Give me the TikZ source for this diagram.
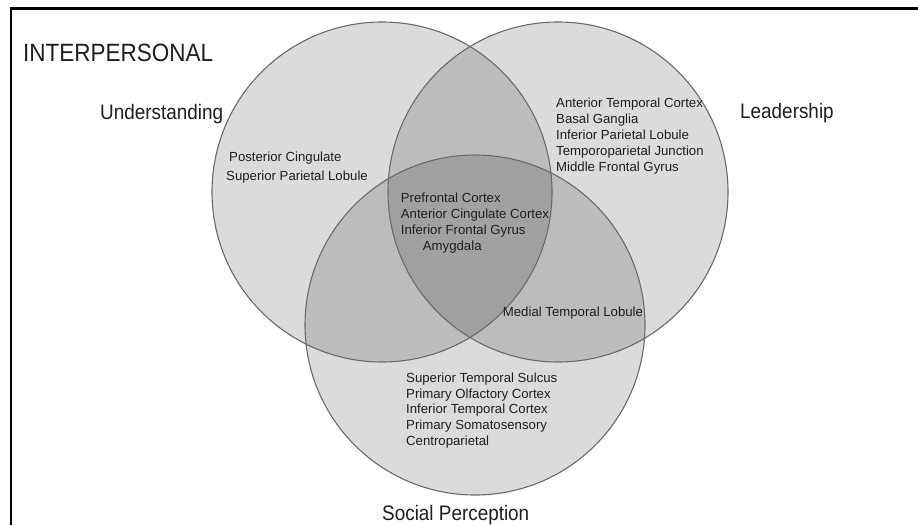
\documentclass[tikz,border=0pt]{standalone}
\usepackage{fontspec}
\setmainfont{Liberation Sans}
\newfontfamily\labelfont[FakeStretch=0.9]{Liberation Sans}
\begin{document}
\begin{tikzpicture}[x=1pt,y=-1pt,
  setfill/.style={fill=black, fill opacity=0.14},
  setline/.style={draw=black!58, line width=1.1pt},
  region/.style={anchor=base west, inner sep=0pt, font=\fontsize{13.2}{15.6}\selectfont, text=black!88},
  setname/.style={anchor=base west, inner sep=0pt, font=\labelfont\fontsize{21}{24}\selectfont, text=black!88},
]
\useasboundingbox (0,0) rectangle (918,525);
\fill[white] (0,0) rectangle (918,525);

% frame
\draw[line width=2.6pt] (11,525) -- (11,8.5) -- (918,8.5);

% the three sets
\coordinate (U) at (382,192);
\coordinate (L) at (558,192);
\coordinate (S) at (475,325);
\foreach \c in {U,L,S} \fill[setfill] (\c) circle[radius=170];
\foreach \c in {U,L,S} \draw[setline] (\c) circle[radius=170];

% titles
\node[setname, font=\labelfont\fontsize{25}{28}\selectfont] (title) at (23,61) {INTERPERSONAL};
\node[setname] (nameU) at (100,119) {Understanding};
\node[setname] (nameL) at (740,118) {Leadership};
\node[setname] (nameS) at (382,520) {Social Perception};

% Understanding only
\node[region] (u1) at (229,161.7) {Posterior Cingulate};
\node[region] (u2) at (226,180) {Superior Parietal Lobule};

% Leadership only
\foreach \t [count=\i] in {Anterior Temporal Cortex, Basal Ganglia, Inferior Parietal Lobule, Temporoparietal Junction, Middle Frontal Gyrus}
  \node[region] (l\i) at (556,{107.3+16*(\i-1)}) {\t};

% all three
\node[region] (c1) at (400.7,202.7) {Prefrontal Cortex};
\node[region] (c2) at (400.7,218.3) {Anterior Cingulate Cortex};
\node[region] (c3) at (400.7,234) {Inferior Frontal Gyrus};
\node[region] (c4) at (422.7,250) {Amygdala};

% Leadership and Social Perception
\node[region] (ls) at (502.7,316.7) {Medial Temporal Lobule};

% Social Perception only
\foreach \t [count=\i] in {Superior Temporal Sulcus, Primary Olfactory Cortex, Inferior Temporal Cortex, Primary Somatosensory, Centroparietal}
  \node[region] (s\i) at (406,{382.7+15.6*(\i-1)}) {\t};
\end{tikzpicture}
\end{document}
